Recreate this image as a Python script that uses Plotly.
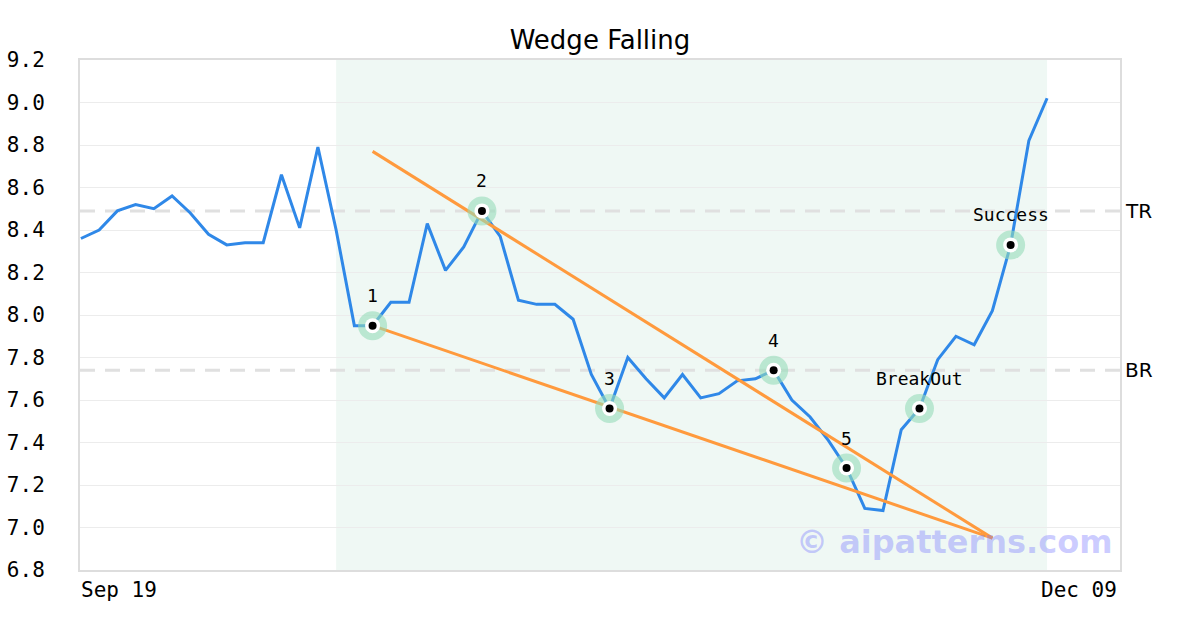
import plotly.graph_objects as go

title = "Wedge Falling"
x_labels = ["Sep 19", "Dec 09"]
x_label_index = [0, 57]

prices = [8.36, 8.40, 8.49, 8.52, 8.50, 8.56, 8.48, 8.38, 8.33, 8.34,
          8.34, 8.66, 8.41, 8.79, 8.40, 7.95, 7.95, 8.06, 8.06, 8.43,
          8.21, 8.32, 8.49, 8.37, 8.07, 8.05, 8.05, 7.98, 7.72, 7.56,
          7.80, 7.70, 7.61, 7.72, 7.61, 7.63, 7.69, 7.70, 7.74, 7.60,
          7.52, 7.41, 7.28, 7.09, 7.08, 7.46, 7.56, 7.79, 7.90, 7.86,
          8.02, 8.33, 8.82, 9.02]
idx = list(range(len(prices)))

pattern_index = [16, 22, 29, 38, 42, 46, 51]
pattern_labels = ["1", "2", "3", "4", "5", "BreakOut", "Success"]

upper_x = [16, 50]
upper_y = [8.77, 6.95]
lower_x = [16, 50]
lower_y = [7.95, 6.95]

tr_level = 8.49
br_level = 7.74
zone_start, zone_end = 14, 53

mono = "DejaVu Sans Mono"
sans = "DejaVu Sans"

fig = go.Figure()

fig.add_trace(go.Scatter(x=idx, y=prices, mode="lines",
                         line=dict(color="#2f88e8", width=3), hoverinfo="skip"))
fig.add_trace(go.Scatter(x=upper_x, y=upper_y, mode="lines",
                         line=dict(color="#ff9a3d", width=3), hoverinfo="skip"))
fig.add_trace(go.Scatter(x=lower_x, y=lower_y, mode="lines",
                         line=dict(color="#ff9a3d", width=3), hoverinfo="skip"))

px_ = [idx[i] for i in pattern_index]
py_ = [prices[i] for i in pattern_index]
fig.add_trace(go.Scatter(x=px_, y=py_, mode="markers",
                         marker=dict(size=29, color="rgba(150,220,185,0.6)"), hoverinfo="skip"))
fig.add_trace(go.Scatter(x=px_, y=py_, mode="markers",
                         marker=dict(size=15, color="white"), hoverinfo="skip"))
fig.add_trace(go.Scatter(x=px_, y=py_, mode="markers",
                         marker=dict(size=8, color="black"), hoverinfo="skip"))

for xi, yi, lab in zip(px_, py_, pattern_labels):
    fig.add_annotation(x=xi, y=yi, text=lab, showarrow=False, yshift=30,
                       yanchor="middle", font=dict(family=mono, size=18, color="black"))

# zone shading
fig.add_shape(type="rect", xref="x", yref="paper", x0=zone_start, x1=zone_end, y0=0, y1=1,
              fillcolor="#eff8f4", line=dict(width=0), layer="below")

# TR / BR levels
for lvl, lab in [(tr_level, "TR"), (br_level, "BR")]:
    fig.add_shape(type="line", xref="paper", yref="y", x0=0, x1=1, y0=lvl, y1=lvl,
                  line=dict(color="#e0e0e0", width=3, dash="15px,10px"), layer="below")
    fig.add_annotation(xref="paper", yref="y", x=1, y=lvl, text=lab, showarrow=False,
                       xanchor="left", xshift=3, font=dict(family=sans, size=20, color="black"))

# x tick labels at axis ends
fig.add_annotation(xref="x", yref="paper", x=x_label_index[0], y=0, text=x_labels[0],
                   showarrow=False, xanchor="left", yanchor="top", yshift=-6, xshift=-2,
                   font=dict(family=mono, size=21, color="black"))
fig.add_annotation(xref="x", yref="paper", x=x_label_index[1], y=0, text=x_labels[1],
                   showarrow=False, xanchor="right", yanchor="top", yshift=-6, xshift=-1,
                   font=dict(family=mono, size=21, color="black"))

# watermark
fig.add_annotation(xref="paper", yref="paper", x=0.9955, y=0.055, text="<b>© aipatterns.com</b>",
                   showarrow=False, xanchor="right", yanchor="middle",
                   font=dict(family=sans, size=32, color="rgba(120,120,255,0.38)"))

fig.update_layout(
    width=1200, height=630,
    margin=dict(l=80, r=80, t=60, b=60, autoexpand=False),
    paper_bgcolor="white", plot_bgcolor="white",
    showlegend=False,
    title=dict(text=title, x=0.5, xanchor="center", y=1 - 40 / 630, yanchor="middle",
               font=dict(family=sans, size=26, color="black")),
    xaxis=dict(range=[-0.05, 57], showgrid=False, zeroline=False, showticklabels=False,
               showline=True, mirror=True, linecolor="#dddddd", linewidth=2, ticks=""),
    yaxis=dict(range=[6.8, 9.2], dtick=0.2, tick0=6.8, tickformat=".1f",
               showgrid=True, gridcolor="#ececec", gridwidth=1, zeroline=False,
               showline=True, mirror=True, linecolor="#dddddd", linewidth=2, ticks="",
               ticklabelstandoff=29, automargin=False,
               tickfont=dict(family=mono, size=21, color="black")),
)

fig.write_html("out.html", config={"displayModeBar": False},
               post_script="document.body.style.margin='0';document.body.style.overflow='hidden';")
